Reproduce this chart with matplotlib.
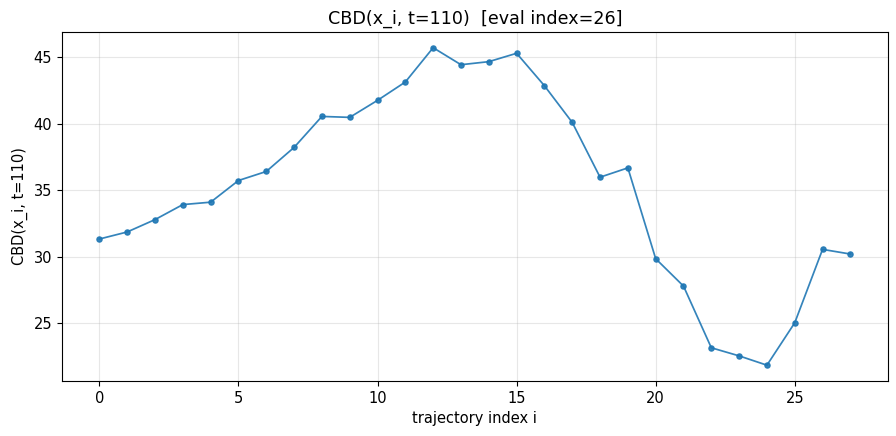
import matplotlib
matplotlib.use("Agg")
import matplotlib.pyplot as plt
import numpy as np


TRAJ_INDEX = list(range(28))
CBD_VALUES = [
    31.33, 31.86, 32.79, 33.92, 34.10, 35.73, 36.41, 38.22, 40.55, 40.48,
    41.76, 43.14, 45.72, 44.44, 44.67, 45.30, 42.86, 40.10, 35.98, 36.68,
    29.85, 27.79, 23.15, 22.54, 21.84, 25.03, 30.55, 30.20,
]
T_STEP = 110
EVAL_INDEX = 26


def main():
    plt.rcParams["font.size"] = 10.5
    fig, ax = plt.subplots(figsize=(8.96, 4.36), dpi=100)
    ax.plot(TRAJ_INDEX, CBD_VALUES, color="#1f77b4", linewidth=1.25, alpha=0.9,
            marker="o", markersize=3.7)
    ax.set_title(f"CBD(x_i, t={T_STEP})  [eval index={EVAL_INDEX}]")
    ax.set_xlabel("trajectory index i")
    ax.set_ylabel(f"CBD(x_i, t={T_STEP})")
    ax.grid(alpha=0.3)
    fig.subplots_adjust(left=0.069, right=0.991, top=0.927, bottom=0.126)
    fig.savefig("out.png", dpi=100)
    plt.close(fig)


if __name__ == "__main__":
    main()
